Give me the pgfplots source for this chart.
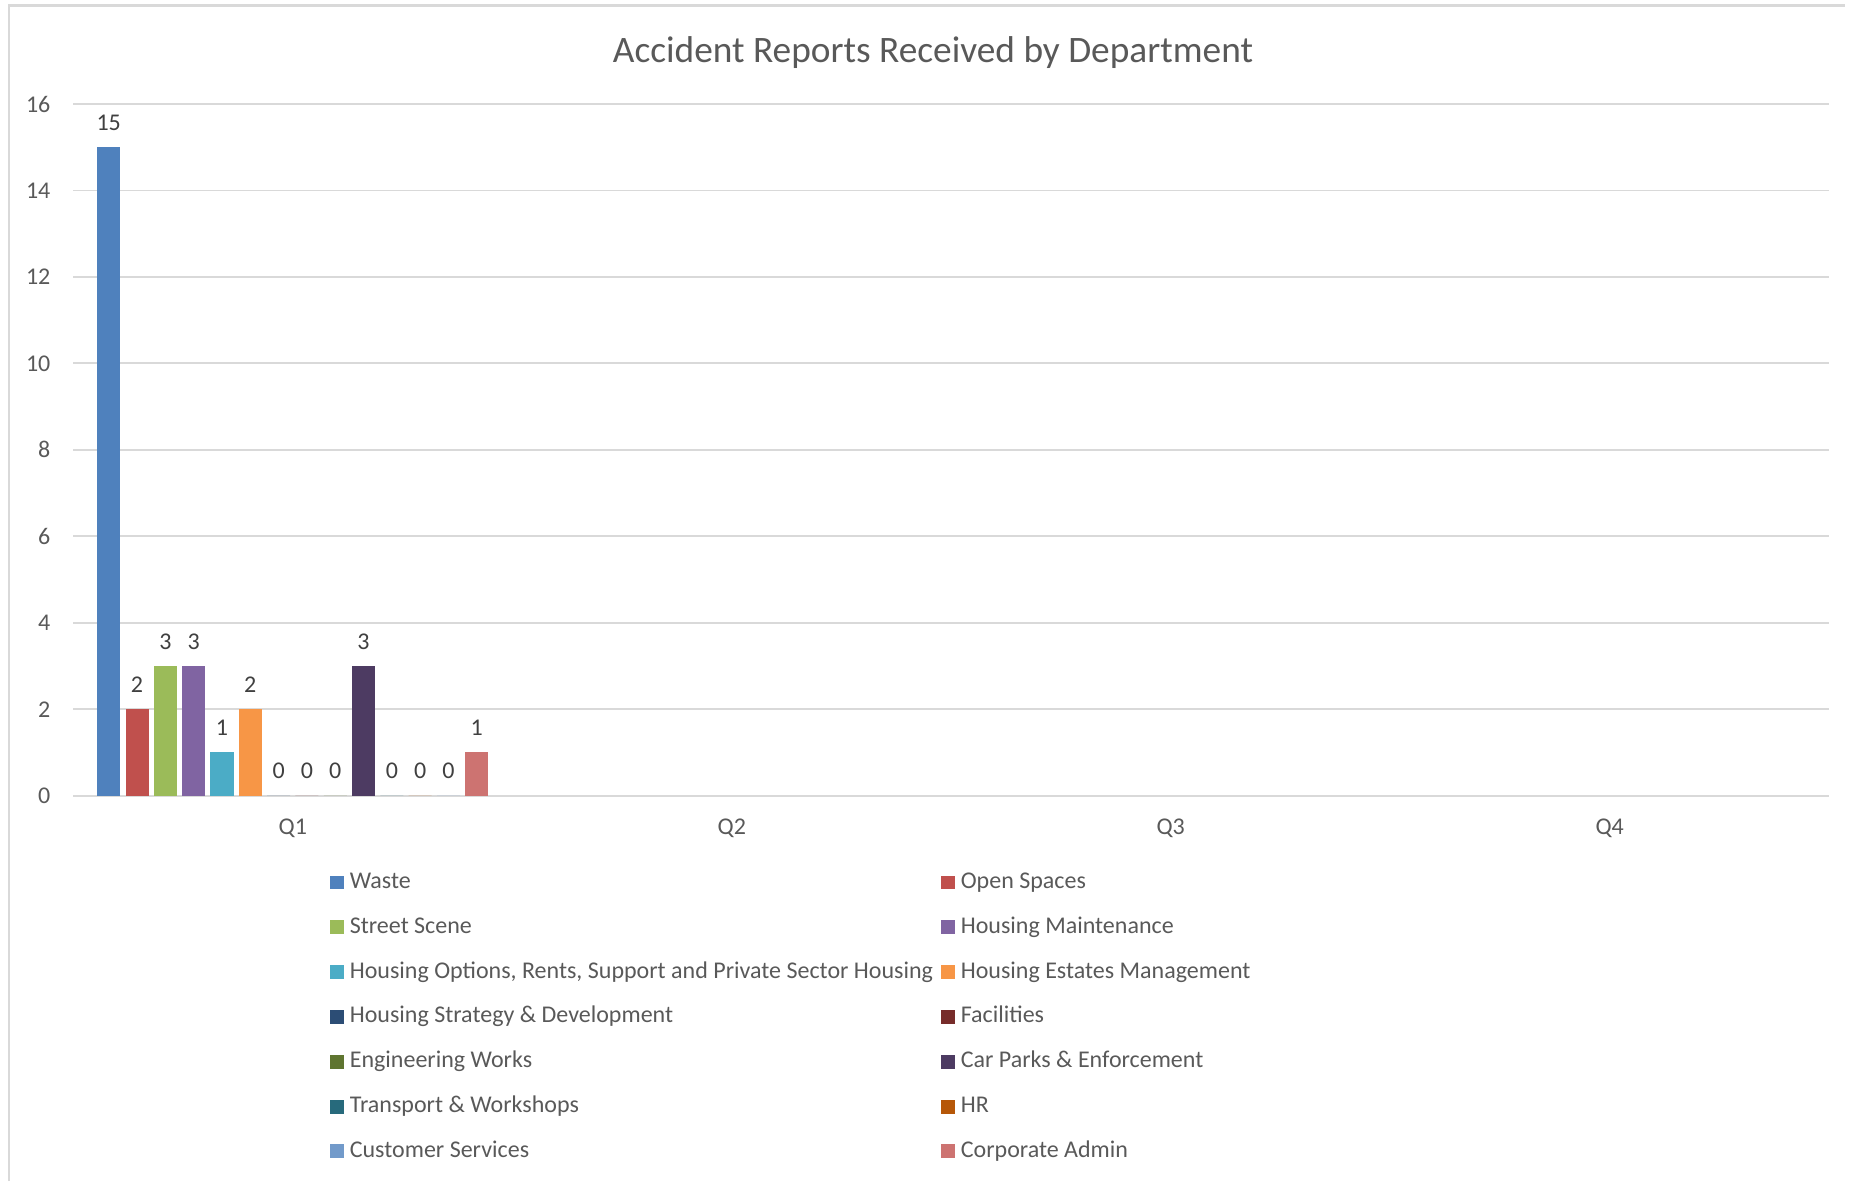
\documentclass[border=0pt]{standalone}
\usepackage{fontspec}
\setmainfont{Carlito}
\usepackage{pgfplots}
\pgfplotsset{compat=1.18}
\definecolor{cWaste}{HTML}{4F81BD}
\definecolor{cOpen}{HTML}{C0504D}
\definecolor{cStreet}{HTML}{9BBB59}
\definecolor{cHMaint}{HTML}{8064A2}
\definecolor{cHOpt}{HTML}{4BACC6}
\definecolor{cHEst}{HTML}{F79646}
\definecolor{cHStrat}{HTML}{2C4D75}
\definecolor{cFac}{HTML}{772C2A}
\definecolor{cEng}{HTML}{5F7530}
\definecolor{cCar}{HTML}{4D3B62}
\definecolor{cTrans}{HTML}{276A7C}
\definecolor{cHR}{HTML}{B65708}
\definecolor{cCust}{HTML}{729ACA}
\definecolor{cCorp}{HTML}{CD7371}
\definecolor{gridgray}{HTML}{D9D9D9}
\definecolor{textgray}{HTML}{595959}
\definecolor{labelgray}{HTML}{404040}
\begin{document}
\begin{tikzpicture}
\useasboundingbox (-27.48pt,-144.5pt) rectangle (667.6pt,298.3pt);
\draw[gridgray, line width=0.9pt] (-24.1pt,-144.5pt) -- (-24.1pt,296.3pt) -- (664.1pt,296.3pt);
\begin{axis}[
  at={(0pt,0pt)}, anchor=south west,
  scale only axis, width=658.3pt, height=259.3pt,
  xmin=-0.5, xmax=3.5, ymin=0, ymax=16,
  xtick={0,1,2,3}, xticklabels={Q1,Q2,Q3,Q4},
  ytick={0,2,...,16},
  axis lines*=left,
  x axis line style={draw=gridgray, line width=0.7pt},
  y axis line style={draw=none},
  major tick length=0pt, tick style={draw=none},
  ymajorgrids, grid style={draw=gridgray, line width=0.7pt},
  /pgf/number format/assume math mode=true,
  tick label style={font=\fontsize{9}{11}\selectfont, text=textgray, inner sep=0pt},
  yticklabel style={xshift=-8.4pt},
  xticklabel style={yshift=-8.5pt},
  title={Accident Reports Received by Department},
  title style={at={(0.4896,1.0513)}, anchor=center, font=\fontsize{14}{16}\selectfont, text=textgray},
  every axis plot/.append style={ybar, bar width=0.0524, bar shift=0pt, draw=none},
  nodes near coords,
  every node near coord/.append style={font=\fontsize{9}{11}\selectfont, text=labelgray, inner sep=0pt, anchor=south, yshift=6.0pt},
  legend columns=2,
  legend cell align=left,
  legend image code/.code={\fill[#1] (0pt,-2.6pt) rectangle (5.2pt,2.6pt);},
  legend style={draw=none, fill=none, at={(0.1461,-0.109)}, anchor=north west,
    font=\fontsize{9}{11}\selectfont, text=textgray, inner sep=0pt, row sep=8.6pt,
    nodes={inner sep=0pt, text height=6.3pt, text depth=1.9pt},
    /tikz/every odd column/.append style={column sep=2.1pt},
    /tikz/every even column/.append style={column sep=3.1pt}},
]
% Q1 values; each department is drawn at its own offset within the Q1 group (Q2-Q4 have no data)
\addplot[fill=cWaste] coordinates {(-0.41925,15)};
\addlegendentry{Waste}
\addplot[fill=cOpen] coordinates {(-0.35475,2)};
\addlegendentry{Open Spaces}
\addplot[fill=cStreet] coordinates {(-0.29025,3)};
\addlegendentry{Street Scene}
\addplot[fill=cHMaint] coordinates {(-0.22575,3)};
\addlegendentry{Housing Maintenance}
\addplot[fill=cHOpt] coordinates {(-0.16125,1)};
\addlegendentry{Housing Options, Rents, Support and Private Sector Housing}
\addplot[fill=cHEst] coordinates {(-0.09675,2)};
\addlegendentry{Housing Estates Management}
\addplot[fill=cHStrat] coordinates {(-0.03225,0)};
\addlegendentry{Housing Strategy \& Development}
\addplot[fill=cFac] coordinates {(0.03225,0)};
\addlegendentry{Facilities}
\addplot[fill=cEng] coordinates {(0.09675,0)};
\addlegendentry{Engineering Works}
\addplot[fill=cCar] coordinates {(0.16125,3)};
\addlegendentry{Car Parks \& Enforcement}
\addplot[fill=cTrans] coordinates {(0.22575,0)};
\addlegendentry{Transport \& Workshops}
\addplot[fill=cHR] coordinates {(0.29025,0)};
\addlegendentry{HR}
\addplot[fill=cCust] coordinates {(0.35475,0)};
\addlegendentry{Customer Services}
\addplot[fill=cCorp] coordinates {(0.41925,1)};
\addlegendentry{Corporate Admin}
\end{axis}
\end{tikzpicture}
\end{document}
